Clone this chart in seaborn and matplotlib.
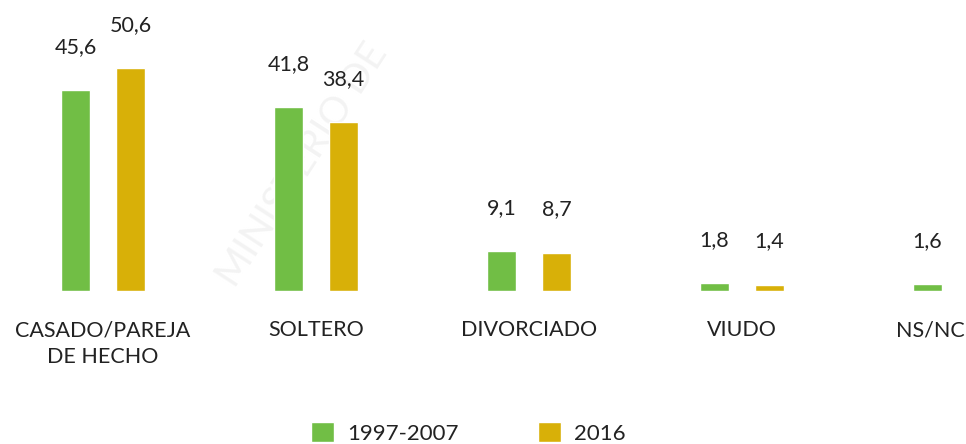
import matplotlib
matplotlib.use("Agg")
import matplotlib.pyplot as plt
import matplotlib.transforms as mtransforms
import seaborn as sns
import numpy as np
import pandas as pd

categories = ["CASADO/PAREJA\nDE HECHO", "SOLTERO", "DIVORCIADO", "VIUDO", "NS/NC"]
periods = ["1997-2007", "2016"]
values_1997_2007 = [45.6, 41.8, 9.1, 1.8, 1.6]
values_2016 = [50.6, 38.4, 8.7, 1.4, np.nan]

colors = {"1997-2007": "#71be45", "2016": "#d8b008"}

df = pd.DataFrame({
    "categoria": categories * 2,
    "periodo": [periods[0]] * len(categories) + [periods[1]] * len(categories),
    "valor": values_1997_2007 + values_2016,
})

sns.set_style("white")
plt.rcParams["font.family"] = ["Lato", "DejaVu Sans"]
text_color = "#222222"

fig = plt.figure(figsize=(9.66, 4.44), dpi=100)
ax = fig.add_axes([0.0, 0.3446, 1.0, 0.6554])
ax.patch.set_alpha(0)

sns.barplot(
    data=df, x="categoria", y="valor", hue="periodo",
    order=categories, hue_order=periods, palette=colors, saturation=1,
    width=0.516, gap=0.47, ax=ax, legend=True,
)

for container in ax.containers:
    labels = ["" if np.isnan(v) else f"{v:.1f}".replace(".", ",") for v in container.datavalues]
    ax.bar_label(container, labels=labels, padding=24, fontsize=15.5, color=text_color)

ax.set_xlim(-0.484, 4.052)
ax.set_ylim(0, 66.1)
ax.set_xlabel("")
ax.set_ylabel("")
ax.set_yticks([])
ax.tick_params(axis="x", length=0, pad=21, labelsize=15.5, labelcolor=text_color)
for lab in ax.get_xticklabels():
    lab.set_linespacing(1.45)
for spine in ax.spines.values():
    spine.set_visible(False)

# last label sits shifted left in the original so it stays inside the frame
last = ax.get_xticklabels()[-1]
last.set_transform(last.get_transform() + mtransforms.ScaledTranslation(-0.25, 0, fig.dpi_scale_trans))

# faint watermark behind everything
fig.text(0.218, 0.34, "MINISTERIO DE", rotation=57, fontsize=28, color="#f3f3f3",
         ha="left", va="bottom", zorder=-1)

handles, lbls = ax.get_legend_handles_labels()
ax.get_legend().remove()
fig.legend(handles, lbls, loc="lower center", bbox_to_anchor=(0.485, -0.045), ncol=2,
           frameon=False, fontsize=16, handlelength=1.0, handleheight=1.0,
           handletextpad=0.6, columnspacing=3.6, labelcolor=text_color)

fig.savefig("out.png", dpi=100)
